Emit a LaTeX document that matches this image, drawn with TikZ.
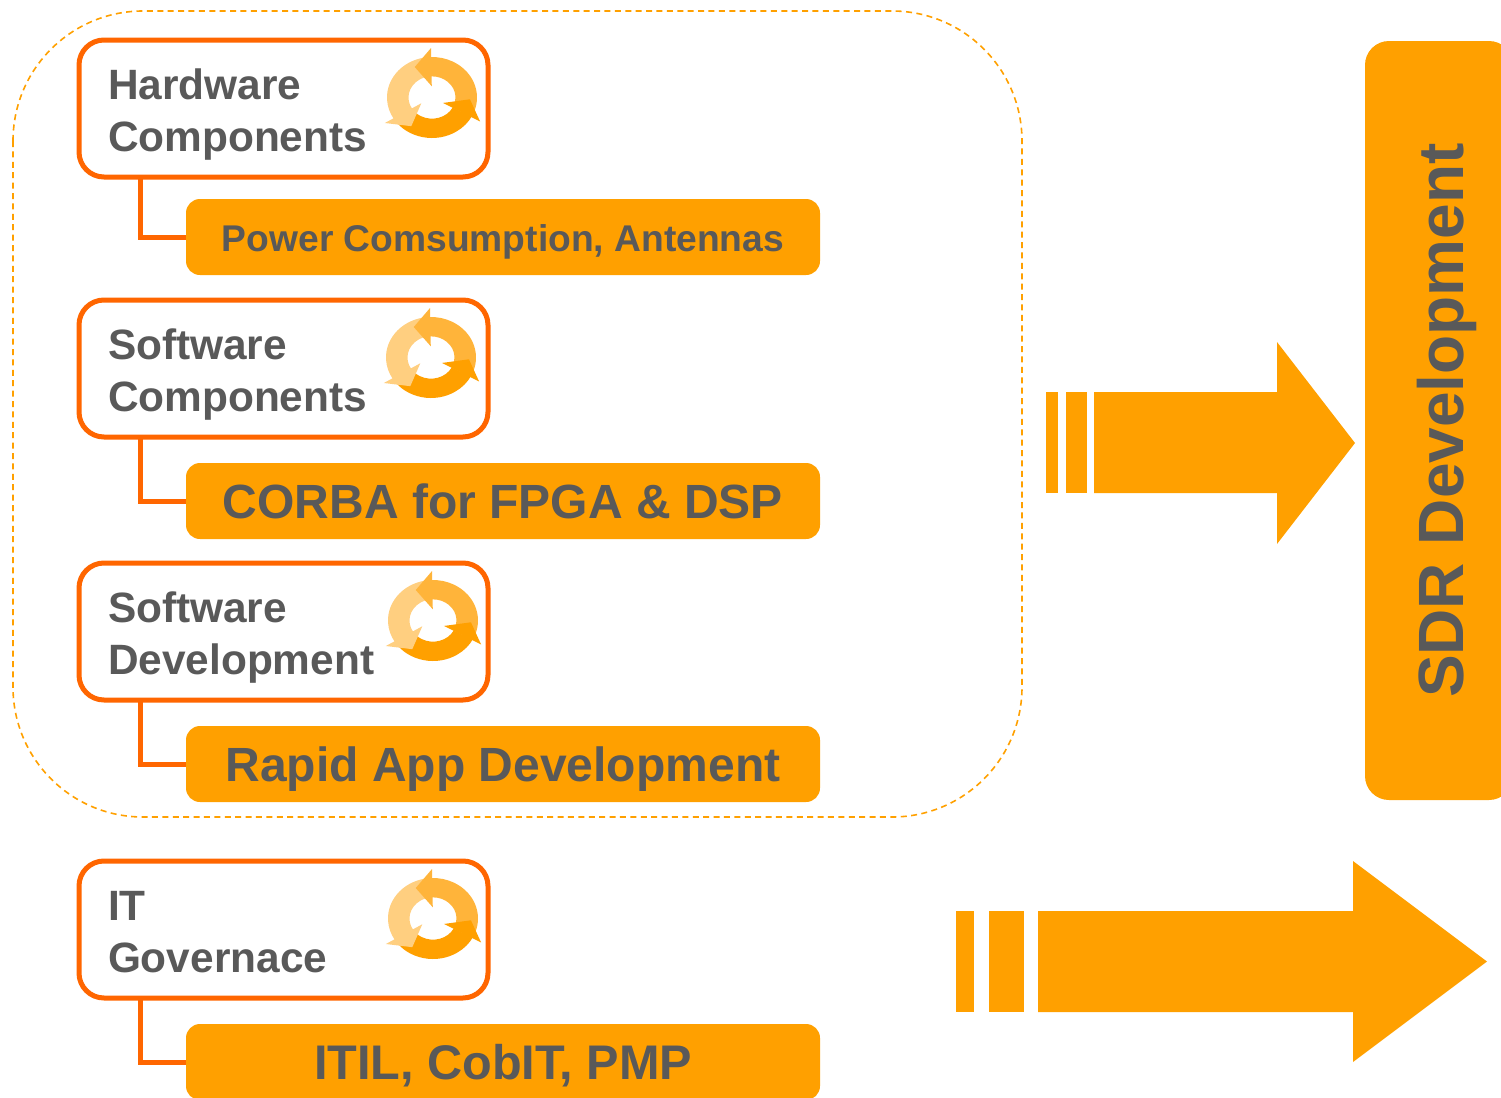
\documentclass[tikz,border=0pt]{standalone}
\usepackage{fontspec}
\setmainfont{Liberation Sans}
\usetikzlibrary{positioning}
\definecolor{amber}{HTML}{FFA000}
\definecolor{amberMid}{HTML}{FFB43A}
\definecolor{amberPale}{HTML}{FFCF80}
\definecolor{rust}{HTML}{FF6600}
\definecolor{slate}{HTML}{595959}
\tikzset{
  compbox/.style={draw=rust,line width=2.5pt,rounded corners=12.5pt,fill=white,outer sep=0pt,
    minimum width=204.5pt,minimum height=68.5pt,inner xsep=14.5pt,inner ysep=0pt,text width=175.5pt,
    align=left,text=slate,font=\fontsize{21.2}{26}\selectfont\bfseries},
  tagbox/.style={fill=amber,rounded corners=7pt,outer sep=0pt,minimum width=317pt,minimum height=38pt,
    inner sep=0pt,text=slate,text height=17.5pt,text depth=0pt,font=\fontsize{24}{28}\selectfont\bfseries},
  link/.style={draw=rust,line width=2.5pt},
  panel/.style={fill=amber,rounded corners=12pt,outer sep=0pt,minimum width=379.5pt,minimum height=74pt,
    inner sep=0pt,text=slate,text height=24.5pt,text depth=0pt,font=\fontsize{32}{36}\selectfont\bfseries},
}
\newcommand{\boxlift}{\rule{0pt}{21pt}}
\newcommand{\boxdrop}{\rule[-4.5pt]{0pt}{5pt}}
% one arrow of the cycle icon, body and head apart
\newcommand{\cyclebody}[2]{\fill[#2,rotate=#1] (-27:45) arc[start angle=-27,end angle=92,radius=45] -- (92:23.5) arc[start angle=92,end angle=-27,radius=23.5] -- cycle;}
\newcommand{\cyclehead}[2]{\fill[#2,rotate=#1] (91:55) -- (117:38) -- (91:12.5) -- cycle;}
\newcommand{\cycleicon}[1]{
  \begin{scope}[shift={#1},x=.5pt,y=.5pt,yscale=.9]
    \cyclebody{120}{amberPale}
    \cyclebody{0}{amberMid}
    \cyclehead{0}{amberMid}
    \cyclebody{-120}{amber}
    \cyclehead{-120}{amber}
    \cyclehead{120}{amberPale}
  \end{scope}
}
\begin{document}
\begin{tikzpicture}[x=.5pt,y=-.5pt]
  \useasboundingbox (0,0) rectangle (1501,1098);
  \clip (0,0) rectangle (1501,1098);

  \draw[amber,line width=.8pt,dash pattern=on 3pt off 2.2pt,rounded corners=65pt] (13,11) rectangle (1022,817);

  % boxes
  \node[compbox] (hardware) at (283.5,108.5) {\boxlift Hardware\\Components};
  \node[compbox] (software) at (283.5,368.5) {\boxlift Software\\Components};
  \node[compbox] (develop) at (283.5,631.5) {\boxlift Software\\Development};
  \node[compbox] (govern) at (283.5,929.5) {\boxlift IT\\Governace\boxdrop};

  % tags
  \node[tagbox,text height=14pt,font=\fontsize{18.6}{22}\selectfont\bfseries] (hardwaretag) at (503,237) {Power Comsumption, Antennas};
  \node[tagbox] (softwaretag) at (503,501) {CORBA for FPGA \& DSP};
  \node[tagbox] (developtag) at (503,764) {Rapid App Development};
  \node[tagbox,font=\fontsize{24.3}{28}\selectfont\bfseries] (governtag) at (503,1062) {ITIL, CobIT, PMP};

  \draw[link] ([xshift=30.5pt]hardware.south west) |- (hardwaretag.west);
  \draw[link] ([xshift=30.5pt]software.south west) |- (softwaretag.west);
  \draw[link] ([xshift=30.5pt]develop.south west) |- (developtag.west);
  \draw[link] ([xshift=30.5pt]govern.south west) |- (governtag.west);

  \cycleicon{(432,97.5)}
  \cycleicon{(431,357.5)}
  \cycleicon{(433,620.5)}
  \cycleicon{(433,918.5)}

  % block arrows
  \fill[amber] (1046,392) rectangle (1058,493);
  \fill[amber] (1066,392) rectangle (1087,493);
  \fill[amber] (1094,392) -- (1277,392) -- (1277,342) -- (1355,443) -- (1277,544) -- (1277,493) -- (1094,493) -- cycle;
  \fill[amber] (956,911) rectangle (974,1012);
  \fill[amber] (989,911) rectangle (1024,1012);
  \fill[amber] (1038,911) -- (1353,911) -- (1353,861) -- (1487,961.5) -- (1353,1062) -- (1353,1012) -- (1038,1012) -- cycle;

  \node[panel,rotate=90] (sdr) at (1439,420.5) {SDR Development};
\end{tikzpicture}
\end{document}
